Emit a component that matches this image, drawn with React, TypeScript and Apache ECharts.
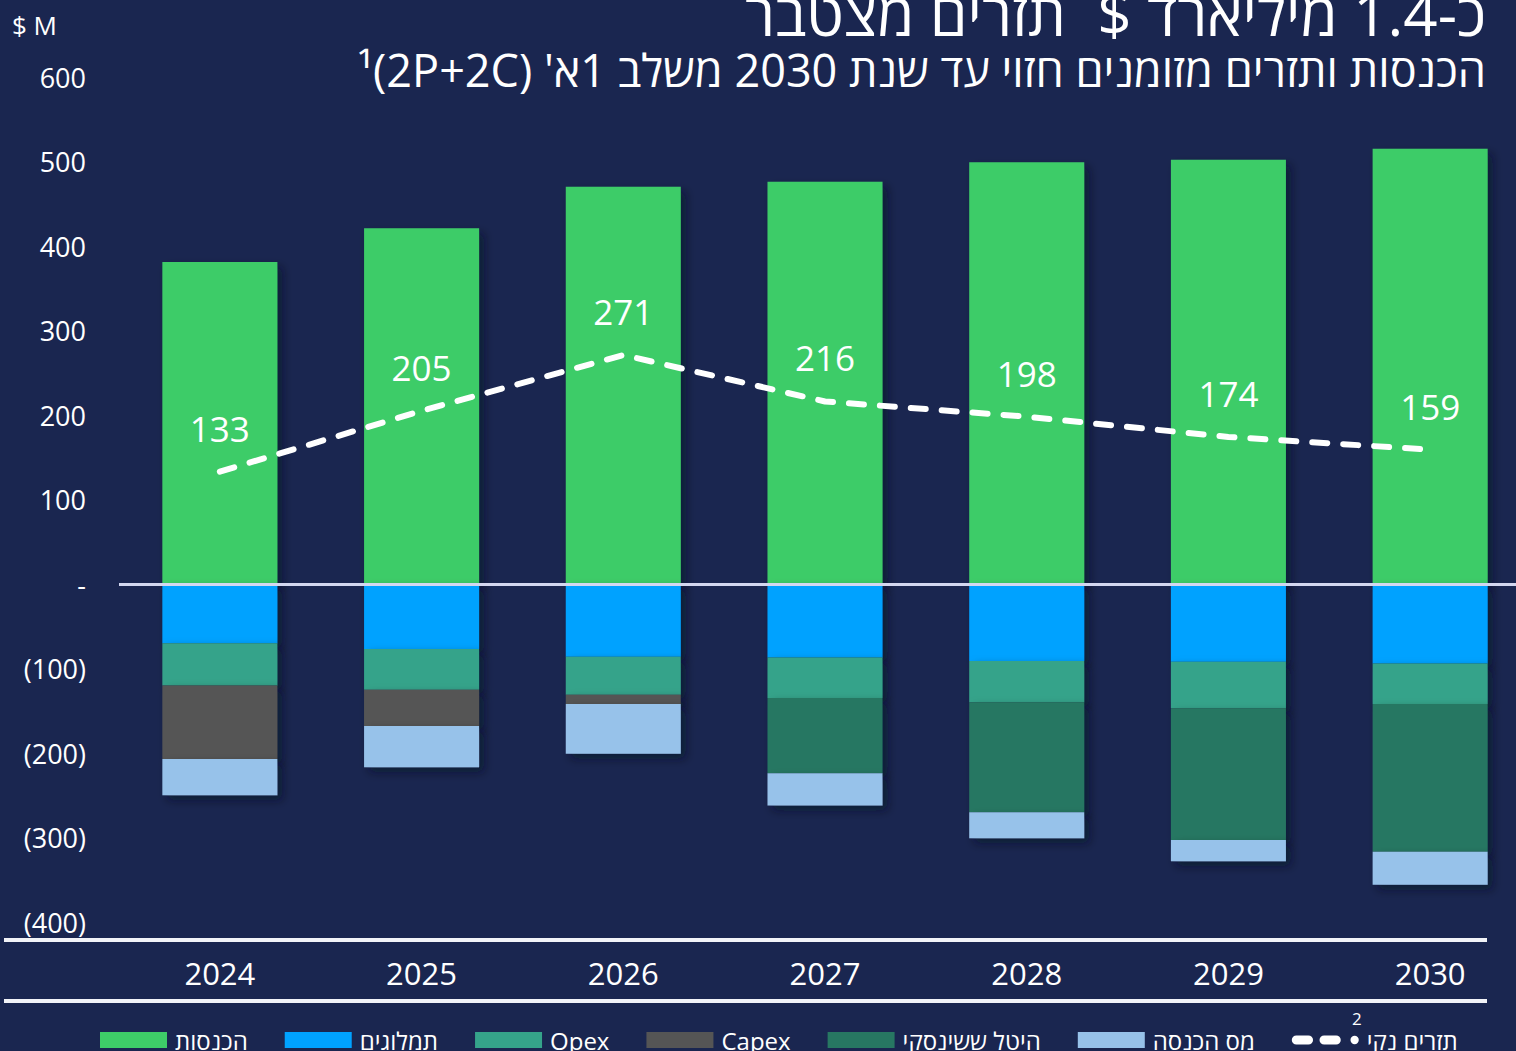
import React, { useEffect, useRef } from "react";
import * as echarts from "echarts";

const years = ["2024", "2025", "2026", "2027", "2028", "2029", "2030"];
const revenue = [381, 421, 470, 476, 499, 502, 515];
const royalties = [-70, -77, -86, -87, -91, -92, -94];
const opex = [-50, -48, -45, -48, -49, -55, -48];
const capex = [-87, -43, -11, 0, 0, 0, 0];
const levy = [0, 0, 0, -89, -130, -156, -175];
const incomeTax = [-43, -49, -59, -38, -31, -25, -39];
const netCashFlow = [133, 205, 271, 216, 198, 174, 159];

const yTicks = { min: -400, max: 600, interval: 100 };

const names = {
  revenue: "הכנסות",
  royalties: "תמלוגים",
  opex: "Opex",
  capex: "Capex",
  levy: "היטל ששינסקי",
  tax: "מס הכנסה",
  net: "תזרים נקי",
};

const TITLE = "\u202Bכ-1.4 מיליארד $  תזרים מצטבר\u202C";
const SUBTITLE = "\u202Bהכנסות ותזרים מזומנים חזוי עד שנת 2030 משלב 1א' (2P+2C)¹\u202C";

const FONT = "'Open Sans', 'Liberation Sans', 'DejaVu Sans', sans-serif";
const BG = "#1a2650";
const CHART_W = 1540;
const NET_ICON =
  "path://M5,0 H18 A5,5 0 0 1 18,10 H5 A5,5 0 0 1 5,0 Z M35,0 H48 A5,5 0 0 1 48,10 H35 A5,5 0 0 1 35,0 Z M68,0.5 A4.5,4.5 0 1 1 68,9.5 A4.5,4.5 0 1 1 68,0.5 Z";

export default function App() {
  const ref = useRef<HTMLDivElement>(null);
  useEffect(() => {
    if (!ref.current) return;
    const chart = echarts.init(ref.current, undefined, { renderer: "svg" });
    const shadow = {
      shadowColor: "rgba(5,10,30,0.55)",
      shadowBlur: 10,
      shadowOffsetX: 5,
      shadowOffsetY: 5,
    };
    const bar = (name: string, data: number[], color: string, extra: any = {}) => ({
      name,
      type: "bar",
      stack: "total",
      barWidth: 115,
      data,
      itemStyle: { color, ...shadow },
      z: 2,
      ...extra,
    });
    chart.setOption({
      animation: false,
      backgroundColor: BG,
      textStyle: { fontFamily: FONT },
      grid: { left: 119, top: 77, width: 1412, height: 845 },
      xAxis: {
        type: "category",
        data: years,
        axisLine: { show: false },
        axisTick: { show: false },
        axisLabel: { color: "#ffffff", fontSize: 31, margin: 35, fontFamily: FONT },
      },
      yAxis: {
        type: "value",
        min: yTicks.min,
        max: yTicks.max,
        interval: yTicks.interval,
        splitLine: { show: false },
        axisLine: { show: false },
        axisTick: { show: false },
        axisLabel: {
          color: "#ffffff",
          fontSize: 27,
          margin: 33,
          fontFamily: FONT,
          formatter: (v: number) => (v === 0 ? "-" : v < 0 ? `(${-v})` : String(v)),
        },
      },
      legend: {
        left: 100,
        top: 1028,
        padding: 0,
        itemWidth: 67,
        itemHeight: 16,
        itemGap: 37,
        textStyle: { color: "#ffffff", fontSize: 24, fontFamily: FONT, padding: [0, 0, 0, 3] },
        data: [
          { name: names.revenue, icon: "rect" },
          { name: names.royalties, icon: "rect" },
          { name: names.opex, icon: "rect" },
          { name: names.capex, icon: "rect" },
          { name: names.levy, icon: "rect" },
          { name: names.tax, icon: "rect" },
          { name: names.net, icon: NET_ICON },
        ],
      },
      series: [
        bar(names.revenue, revenue, "#3ecc68", {
          markLine: {
            silent: true,
            symbol: ["none", "none"],
            label: { show: false },
            lineStyle: { color: "#d3d7f0", width: 3, type: "solid" },
            data: [{ yAxis: 0 }],
            z: 5,
          },
        }),
        bar(names.royalties, royalties, "#00a2ff"),
        bar(names.opex, opex, "#35a38a"),
        bar(names.capex, capex, "#555555"),
        bar(names.levy, levy, "#277762"),
        bar(names.tax, incomeTax, "#97c2ea"),
        {
          name: names.net,
          type: "line",
          data: netCashFlow,
          z: 10,
          symbol: "circle",
          symbolSize: 0.01,
          showSymbol: true,
          itemStyle: { color: "#ffffff" },
          lineStyle: { color: "#ffffff", width: 6, type: [15, 16], cap: "round", join: "round" },
          label: {
            show: true,
            position: "top",
            distance: 26,
            color: "#ffffff",
            fontSize: 35,
            fontFamily: FONT,
          },
        },
      ],
      graphic: [
        {
          type: "text",
          right: CHART_W - 1486,
          top: -17,
          style: { text: TITLE, fill: "#ffffff", font: `60px ${FONT}` },
        },
        {
          type: "text",
          right: CHART_W - 1486,
          top: 47,
          style: { text: SUBTITLE, fill: "#ffffff", font: `45px ${FONT}` },
        },
        {
          type: "text",
          left: 12,
          top: 12,
          style: { text: "$ M", fill: "#ffffff", font: `26px ${FONT}` },
        },
        {
          type: "line",
          shape: { x1: 4, y1: 940, x2: 1487, y2: 940 },
          style: { stroke: "#f2f3f8", lineWidth: 4 },
        },
        {
          type: "line",
          shape: { x1: 4, y1: 1001, x2: 1487, y2: 1001 },
          style: { stroke: "#f2f3f8", lineWidth: 4 },
        },
        {
          type: "text",
          left: 1352,
          top: 1010,
          style: { text: "2", fill: "#ffffff", font: `17px ${FONT}` },
        },
      ],
    });
    return () => chart.dispose();
  }, []);
  return (
    <div
      ref={ref}
      style={{ position: "fixed", left: 0, top: 0, width: CHART_W, height: 1051 }}
    />
  );
}
